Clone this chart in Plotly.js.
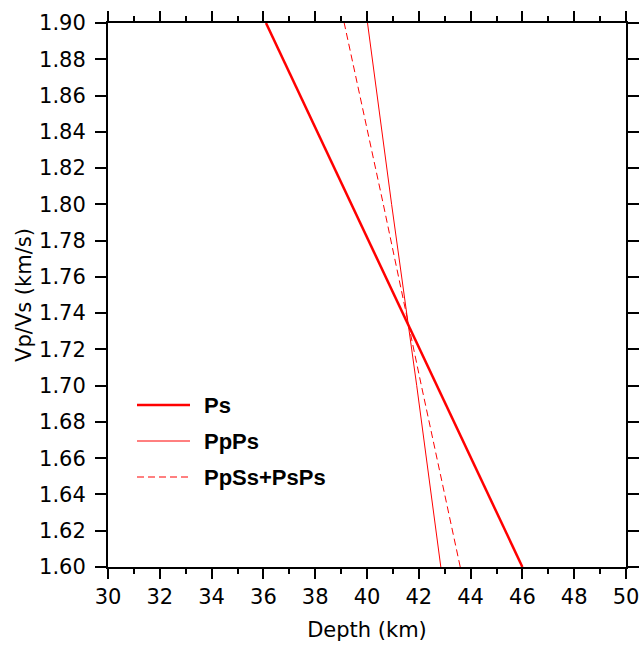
<!DOCTYPE html>
<html>
<head>
<meta charset="utf-8">
<script src="https://cdn.plot.ly/plotly-3.0.1.min.js"></script>
<style>html,body{margin:0;padding:0;background:#fff;}#chart{width:639px;height:646px;}</style>
</head>
<body>
<div id="chart"></div>
<script>
// Vp/Vs values and corresponding depths (km) for each phase
const vpvs = [1.60, 1.70, 1.80, 1.90];
const depthPs = [46.0, 42.7, 39.4, 36.1];
const depthPpPs = [42.85, 41.92, 40.95, 40.02];
const depthPpSsPsPs = [43.6, 42.1, 40.63, 39.12];
const seriesNames = ['Ps', 'PpPs', 'PpSs+PsPs'];

const FONT = 'DejaVu Sans, sans-serif';
const LFONT = 'Liberation Sans, Arial, Helvetica, sans-serif';
const RED = '#ff0000';

const traces = [
  {x: depthPs, y: vpvs, mode: 'lines', name: seriesNames[0], line: {color: RED, width: 2.5}},
  {x: depthPpPs, y: vpvs, mode: 'lines', name: seriesNames[1], line: {color: RED, width: 1}},
  {x: depthPpSsPsPs, y: vpvs, mode: 'lines', name: seriesNames[2], line: {color: RED, width: 1, dash: '7px,4px'}}
];

// Manual legend (paper coordinates)
const legendStyles = [
  {width: 2.5, dash: 'solid'},
  {width: 1, dash: 'solid'},
  {width: 1, dash: '7px,4px'}
];
const W = 639, H = 646, ML = 108, MR = 13, MT = 23, MB = 79;
const pw = W - ML - MR, ph = H - MT - MB;
const px = v => (v - ML) / pw;
const py = v => 1 - (v - MT) / ph;
const legRows = [405, 441, 477];
const shapes = [], annotations = [];
seriesNames.forEach((n, i) => {
  shapes.push({type: 'line', xref: 'paper', yref: 'paper',
    x0: px(137), x1: px(190), y0: py(legRows[i]), y1: py(legRows[i]),
    line: {color: RED, width: legendStyles[i].width, dash: legendStyles[i].dash}});
  annotations.push({xref: 'paper', yref: 'paper', x: px(202), y: py(legRows[i]),
    xanchor: 'left', yanchor: 'middle', showarrow: false, text: '<b>' + n + '</b>',
    font: {family: LFONT, size: 22, color: '#000'}});
});

const layout = {
  width: W, height: H,
  margin: {l: ML, r: MR, t: MT, b: MB, pad: 0},
  paper_bgcolor: '#fff', plot_bgcolor: '#fff',
  showlegend: false,
  font: {family: FONT, color: '#000'},
  xaxis: {
    range: [30, 50], dtick: 2, tick0: 30,
    showgrid: false, zeroline: false,
    showline: true, linecolor: '#000', linewidth: 2, mirror: 'ticks',
    ticks: 'outside', ticklen: 10, tickwidth: 2, tickcolor: '#000',
    minor: {dtick: 1, ticks: 'outside', ticklen: 5, tickwidth: 2, tickcolor: '#000', showgrid: false},
    ticklabeloverflow: 'allow',
    tickfont: {family: FONT, size: 21, color: '#000'},
    title: {text: 'Depth (km)', font: {family: FONT, size: 21, color: '#000'}, standoff: 14}
  },
  yaxis: {
    range: [1.60, 1.90], dtick: 0.02, tick0: 1.60, tickformat: '.2f',
    showgrid: false, zeroline: false,
    showline: true, linecolor: '#000', linewidth: 2, mirror: 'ticks',
    ticks: 'outside', ticklen: 11, tickwidth: 2, tickcolor: '#000',
    ticklabelstandoff: 5,
    ticklabeloverflow: 'allow',
    tickfont: {family: FONT, size: 21, color: '#000'},
    title: {text: 'Vp/Vs (km/s)', font: {family: FONT, size: 21, color: '#000'}, standoff: 2}
  },
  shapes: shapes,
  annotations: annotations
};

Plotly.newPlot('chart', traces, layout, {displayModeBar: false, staticPlot: true});
</script>
</body>
</html>
